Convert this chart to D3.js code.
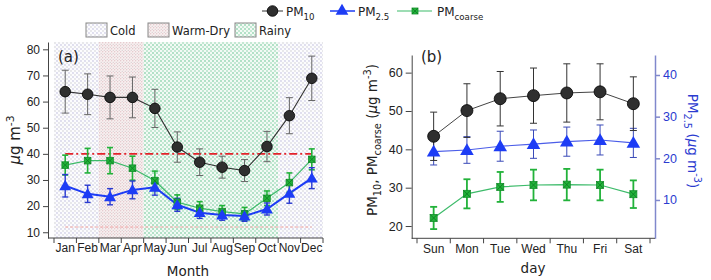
<!DOCTYPE html>
<html>
  <head>
    <script type="text/javascript" src="https://cdn.jsdelivr.net/npm/d3@7"></script>
    <style>
      body { margin: 0; background: #fff; }
      svg { font-family: "DejaVu Sans", sans-serif; }
    </style>
  </head>
  <body>
    <script type="text/javascript">
      // --- data ---
      var months = ["Jan", "Feb", "Mar", "Apr", "May", "Jun", "Jul", "Aug", "Sep", "Oct", "Nov", "Dec"];
      var pm10Month = [63.8, 62.8, 61.6, 61.6, 57.4, 42.6, 36.8, 34.9, 33.6, 42.8, 54.6, 68.9];
      var pm10MonthErr = [8.2, 7.8, 8.2, 7.8, 7.3, 5.8, 5.1, 4.2, 4.2, 5.8, 6.9, 8.5];
      var pm25Month = [27.8, 24.7, 23.6, 26.2, 27.2, 20.5, 17.5, 16.6, 16.2, 18.9, 24.9, 30.7];
      var pm25MonthErr = [4.3, 3.3, 3.1, 3.4, 3.0, 2.5, 2.2, 2.0, 2.0, 2.3, 3.8, 4.0];
      var coarseMonth = [35.7, 37.4, 37.4, 34.5, 29.7, 21.5, 19.2, 17.9, 17.0, 23.0, 29.0, 37.9];
      var coarseMonthErr = [3.8, 4.7, 5.0, 4.6, 3.7, 2.8, 2.5, 2.3, 2.5, 2.8, 3.7, 4.0];

      var seasonKind = ["cold", "warm", "rainy", "cold"];
      var seasonFirst = ["Jan", "Mar", "May", "Nov"];
      var seasonLast = ["Feb", "Apr", "Oct", "Dec"];
      var seasonNames = ["Cold", "Warm-Dry", "Rainy"];
      var limitRed = 40;
      var limitPink = 12;

      var days = ["Sun", "Mon", "Tue", "Wed", "Thu", "Fri", "Sat"];
      var pm10Day = [43.4, 50.1, 53.2, 54.0, 54.7, 55.0, 51.9];
      var pm10DayErr = [6.3, 7.0, 7.1, 7.2, 7.6, 7.3, 7.0];
      var pm25Day = [21.6, 22.0, 22.9, 23.4, 24.0, 24.4, 23.7];
      var pm25DayErr = [3.2, 3.2, 3.6, 3.4, 3.5, 3.6, 3.5];
      var coarseDay = [22.1, 28.4, 30.2, 30.7, 30.8, 30.7, 28.3];
      var coarseDayErr = [2.9, 3.8, 3.9, 4.0, 4.1, 4.0, 3.6];

      var ticksA = [10, 20, 30, 40, 50, 60, 70, 80];
      var ticksB = [20, 30, 40, 50, 60];
      var ticksB2 = [10, 20, 30, 40];

      // colours
      var cBlue = "#1d3cf5", cGreen = "#22b23a", cGreenLine = "#3dbb6a";
      var cAxisBlue = "#8088cc", cTextBlue = "#2b3bd0";

      var svg = d3.select("body").append("svg")
        .attr("width", 711)
        .attr("height", 280);

      // fill patterns for the seasons
      var defs = svg.append("defs");
      var pc = defs.append("pattern").attr("id", "cold").attr("patternUnits", "userSpaceOnUse")
        .attr("width", 4).attr("height", 4);
      pc.append("rect").attr("width", 4).attr("height", 4).attr("fill", "#fcfcfe");
      pc.append("circle").attr("cx", 1).attr("cy", 1).attr("r", 0.65).attr("fill", "#aeabd4");
      pc.append("circle").attr("cx", 3).attr("cy", 3).attr("r", 0.65).attr("fill", "#c2c2c8");
      var pw = defs.append("pattern").attr("id", "warm").attr("patternUnits", "userSpaceOnUse")
        .attr("width", 3).attr("height", 3);
      pw.append("rect").attr("width", 3).attr("height", 3).attr("fill", "#f8f0f0");
      pw.append("circle").attr("cx", 0.75).attr("cy", 0.75).attr("r", 0.55).attr("fill", "#d3a7ad");
      pw.append("circle").attr("cx", 2.25).attr("cy", 2.25).attr("r", 0.55).attr("fill", "#cdbfc4");
      var pr = defs.append("pattern").attr("id", "rainy").attr("patternUnits", "userSpaceOnUse")
        .attr("width", 4).attr("height", 4);
      pr.append("rect").attr("width", 4).attr("height", 4).attr("fill", "#f3faf5");
      pr.append("circle").attr("cx", 1).attr("cy", 1).attr("r", 0.75).attr("fill", "#52bd83");
      pr.append("circle").attr("cx", 3).attr("cy", 3).attr("r", 0.75).attr("fill", "#7fcfa1");

      // text with sub/superscripts: parts = [[str, "sub"|"sup"|null], ...]
      function richText(sel, parts, size) {
        var small = size * 0.72;
        var shift = 0;
        parts.forEach(p => {
          var t = sel.append("tspan").text(p[0]);
          var target = p[1] == "sub" ? size * 0.3 : p[1] == "sup" ? -size * 0.42 : 0;
          t.attr("dy", target - shift);
          shift = target;
          if (p[1]) t.attr("font-size", small);
        });
        return sel;
      }

      // markers
      var tri = d3.symbol().type(d3.symbolTriangle);
      function circleMark(g, x, y, r) {
        g.append("circle").attr("cx", x).attr("cy", y).attr("r", r)
          .attr("fill", "#2f2f2f").attr("stroke", "#000").attr("stroke-width", 0.8);
      }
      function triMark(g, x, y, s) {
        g.append("path").attr("d", tri.size(s)()).attr("transform", "translate(" + x + "," + (y + 1) + ")")
          .attr("fill", cBlue);
      }
      function squareMark(g, x, y, h) {
        g.append("rect").attr("x", x - h).attr("y", y - h).attr("width", 2 * h).attr("height", 2 * h)
          .attr("fill", cGreen).attr("stroke", "#14902c").attr("stroke-width", 0.8);
        g.append("path").attr("d", "M" + (x - h) + "," + (y - h) + "L" + (x + h) + "," + (y + h) +
          "M" + (x + h) + "," + (y - h) + "L" + (x - h) + "," + (y + h))
          .attr("stroke", "#0d7a22").attr("stroke-width", 0.8);
      }

      function errorBars(g, xs, vals, errs, y, color, width, cap) {
        vals.forEach((v, i) => {
          var x = xs(i);
          g.append("line").attr("x1", x).attr("x2", x).attr("y1", y(v - errs[i])).attr("y2", y(v + errs[i]))
            .attr("stroke", color).attr("stroke-width", width);
          [v - errs[i], v + errs[i]].forEach(e => {
            g.append("line").attr("x1", x - cap).attr("x2", x + cap).attr("y1", y(e)).attr("y2", y(e))
              .attr("stroke", color).attr("stroke-width", width);
          });
        });
      }
      function seriesLine(g, xs, vals, y, color, width) {
        var line = d3.line().x((d, i) => xs(i)).y(d => y(d));
        g.append("path").attr("d", line(vals)).attr("fill", "none")
          .attr("stroke", color).attr("stroke-width", width);
      }

      // ================= panel (a) =================
      var xM = d3.scaleBand().domain(months).range([54, 323]);
      var yA = d3.scaleLinear().domain([7.8, 82.8]).range([238, 42]);
      var mx = i => xM(months[i]) + xM.bandwidth() / 2;
      var gA = svg.append("g");

      seasonKind.forEach((k, i) => {
        var x0 = xM(seasonFirst[i]), x1 = xM(seasonLast[i]) + xM.bandwidth();
        gA.append("rect").attr("x", x0).attr("y", yA.range()[1]).attr("width", x1 - x0)
          .attr("height", yA.range()[0] - yA.range()[1]).attr("fill", "url(#" + k + ")");
      });

      gA.append("line").attr("x1", mx(0)).attr("x2", mx(11)).attr("y1", yA(limitPink)).attr("y2", yA(limitPink))
        .attr("stroke", "#f2a3a3").attr("stroke-width", 1).attr("stroke-dasharray", "3,2");
      gA.append("line").attr("x1", mx(0)).attr("x2", mx(11)).attr("y1", yA(limitRed)).attr("y2", yA(limitRed))
        .attr("stroke", "#e3222a").attr("stroke-width", 1.7).attr("stroke-dasharray", "8,3,2,3");

      seriesLine(gA, mx, coarseMonth, yA, cGreenLine, 1.2);
      seriesLine(gA, mx, pm25Month, yA, cBlue, 2);
      seriesLine(gA, mx, pm10Month, yA, "#333", 1.1);
      errorBars(gA, mx, coarseMonth, coarseMonthErr, yA, cGreen, 1.6, 3);
      errorBars(gA, mx, pm25Month, pm25MonthErr, yA, "#2a3ad0", 1.4, 3);
      errorBars(gA, mx, pm10Month, pm10MonthErr, yA, "#666", 1, 3.5);
      coarseMonth.forEach((v, i) => squareMark(gA, mx(i), yA(v), 3.3));
      pm25Month.forEach((v, i) => triMark(gA, mx(i), yA(v), 62));
      pm10Month.forEach((v, i) => circleMark(gA, mx(i), yA(v), 5.3));

      // axes (a)
      gA.append("g").attr("transform", "translate(48,0)")
        .call(d3.axisLeft(yA).tickValues(ticksA).tickSize(5).tickPadding(3).tickSizeOuter(0))
        .call(g => g.selectAll("text").attr("font-size", 12).attr("fill", "#222").attr("font-family", null))
        .call(g => g.selectAll("line,path").attr("stroke", "#444"));
      var xAxA = gA.append("g").attr("transform", "translate(0,238)")
        .call(d3.axisBottom(xM).tickSize(0).tickPadding(5))
        .call(g => g.select(".domain").remove())
        .call(g => g.selectAll("text").attr("font-size", 12).attr("fill", "#222").attr("font-family", null));
      xAxA.append("line").attr("x1", 48).attr("x2", xM.range()[1]).attr("stroke", "#444");
      xAxA.selectAll(".bnd").data(d3.range(months.length + 1)).enter().append("line")
        .attr("x1", i => xM.range()[0] + i * xM.step()).attr("x2", i => xM.range()[0] + i * xM.step())
        .attr("y1", 0).attr("y2", 5).attr("stroke", "#444");

      svg.append("text").attr("x", 58).attr("y", 62).attr("font-size", 15).attr("fill", "#222").text("(a)");
      svg.append("text").attr("x", 188).attr("y", 276).attr("font-size", 13.5).attr("text-anchor", "middle")
        .attr("fill", "#222").text("Month");
      var ylA = svg.append("text").attr("transform", "translate(20,140) rotate(-90)")
        .attr("text-anchor", "middle").attr("font-size", 15).attr("fill", "#222");
      ylA.append("tspan").attr("font-style", "italic").text("μ");
      richText(ylA, [["g m", null], ["-3", "sup"]], 15);

      // ================= panel (b) =================
      var xD = d3.scaleBand().domain(days).range([417, 650]);
      var yB = d3.scaleLinear().domain([16.8, 64.6]).range([238.3, 55]);
      var yB2 = d3.scaleLinear().domain([0.8, 44.8]).range([238.3, 55]);
      var dx = i => xD(days[i]) + xD.bandwidth() / 2;
      var gB = svg.append("g");

      seriesLine(gB, dx, coarseDay, yB, cGreenLine, 1.2);
      seriesLine(gB, dx, pm25Day, yB2, "#4b5de8", 1.1);
      seriesLine(gB, dx, pm10Day, yB, "#444", 1);
      errorBars(gB, dx, coarseDay, coarseDayErr, yB, cGreen, 1.8, 3.5);
      errorBars(gB, dx, pm25Day, pm25DayErr, yB2, "#3a4ab8", 1, 3.5);
      errorBars(gB, dx, pm10Day, pm10DayErr, yB, "#333", 1, 3.5);
      coarseDay.forEach((v, i) => squareMark(gB, dx(i), yB(v), 3.5));
      pm25Day.forEach((v, i) => triMark(gB, dx(i), yB2(v), 80));
      pm10Day.forEach((v, i) => circleMark(gB, dx(i), yB(v), 6));

      gB.append("g").attr("transform", "translate(411.7,0)")
        .call(d3.axisLeft(yB).tickValues(ticksB).tickSize(6).tickPadding(3).tickSizeOuter(0))
        .call(g => g.selectAll("text").attr("font-size", 12.5).attr("fill", "#222").attr("font-family", null))
        .call(g => g.selectAll("line,path").attr("stroke", "#444"));
      gB.append("g").attr("transform", "translate(655,0)")
        .call(d3.axisRight(yB2).tickValues(ticksB2).tickSize(5).tickPadding(3).tickSizeOuter(0))
        .call(g => g.selectAll("text").attr("font-size", 12.5).attr("fill", cTextBlue).attr("font-family", null))
        .call(g => g.selectAll("line,path").attr("stroke", cAxisBlue).attr("stroke-width", 1.5));
      var xAxB = gB.append("g").attr("transform", "translate(0,238.3)")
        .call(d3.axisBottom(xD).tickSize(0).tickPadding(6))
        .call(g => g.select(".domain").remove())
        .call(g => g.selectAll("text").attr("font-size", 12).attr("fill", "#222").attr("font-family", null));
      xAxB.append("line").attr("x1", 411.7).attr("x2", 655).attr("stroke", "#444");
      xAxB.selectAll(".bnd").data(d3.range(days.length + 1)).enter().append("line")
        .attr("x1", i => xD.range()[0] + i * xD.step()).attr("x2", i => xD.range()[0] + i * xD.step())
        .attr("y1", 0).attr("y2", 5).attr("stroke", "#444");

      svg.append("text").attr("x", 421).attr("y", 62).attr("font-size", 15).attr("fill", "#222").text("(b)");
      svg.append("text").attr("x", 533).attr("y", 273).attr("font-size", 13.5).attr("text-anchor", "middle")
        .attr("fill", "#222").text("day");
      var ylB = svg.append("text").attr("transform", "translate(377,140) rotate(-90)")
        .attr("text-anchor", "middle").attr("font-size", 13.5).attr("fill", "#222");
      richText(ylB, [["PM", null], ["10", "sub"], [", PM", null], ["coarse", "sub"], [" (", null]], 13.5);
      ylB.append("tspan").attr("font-style", "italic").text("μ");
      richText(ylB, [["g m", null], ["-3", "sup"], [")", null]], 13.5);
      var ylB2 = svg.append("text").attr("transform", "translate(688,141) rotate(90)")
        .attr("text-anchor", "middle").attr("font-size", 13.5).attr("fill", cTextBlue);
      richText(ylB2, [["PM", null], ["2.5", "sub"], [" (", null]], 13.5);
      ylB2.append("tspan").attr("font-style", "italic").text("μ");
      richText(ylB2, [["g m", null], ["-3", "sup"], [")", null]], 13.5);

      // ================= legends =================
      var lg = svg.append("g");
      lg.append("line").attr("x1", 262).attr("x2", 283).attr("y1", 11).attr("y2", 11).attr("stroke", "#333");
      circleMark(lg, 272.5, 11, 5.3);
      richText(lg.append("text").attr("x", 286).attr("y", 16).attr("font-size", 12).attr("fill", "#222"),
        [["PM", null], ["10", "sub"]], 12);
      lg.append("line").attr("x1", 330).attr("x2", 355).attr("y1", 11).attr("y2", 11).attr("stroke", cBlue).attr("stroke-width", 1.5);
      triMark(lg, 342, 10, 70);
      richText(lg.append("text").attr("x", 358).attr("y", 16).attr("font-size", 12).attr("fill", "#222"),
        [["PM", null], ["2.5", "sub"]], 12);
      lg.append("line").attr("x1", 397).attr("x2", 432).attr("y1", 11).attr("y2", 11).attr("stroke", cGreenLine).attr("stroke-width", 1.2);
      squareMark(lg, 415, 11, 3);
      richText(lg.append("text").attr("x", 437).attr("y", 16).attr("font-size", 12).attr("fill", "#222"),
        [["PM", null], ["coarse", "sub"]], 12);

      var boxX = [86, 148, 235];
      var boxKinds = ["cold", "warm", "rainy"];
      seasonNames.forEach((n, i) => {
        lg.append("rect").attr("x", boxX[i]).attr("y", 23).attr("width", 21).attr("height", 14)
          .attr("fill", "url(#" + boxKinds[i] + ")").attr("stroke", "#888").attr("stroke-width", 1);
        lg.append("text").attr("x", boxX[i] + 24).attr("y", 34.5).attr("font-size", 11.5).attr("fill", "#222").text(n);
      });
    </script>
  </body>
</html>
